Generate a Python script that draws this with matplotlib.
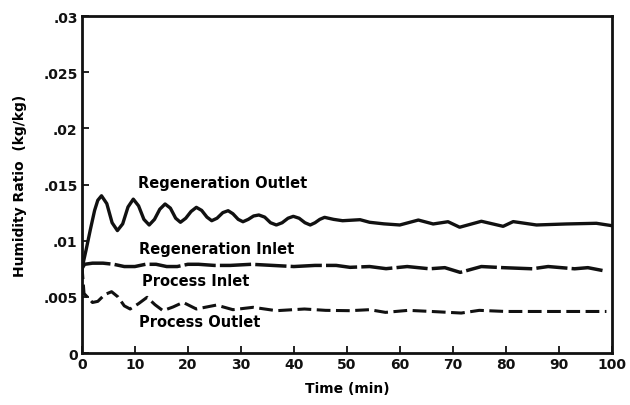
import matplotlib
matplotlib.use('agg')
import matplotlib.pyplot as plt

# Regeneration outlet humidity ratio (kg/kg) vs time (min)
reg_out_t = [0, 0.8, 1.6, 2.4, 3.0, 3.7, 4.7, 5.7, 6.7, 7.7, 8.7, 9.7, 10.7, 11.7, 12.7,
             13.7, 14.7, 15.7, 16.7, 17.7, 18.6, 19.6, 20.6, 21.6, 22.6, 23.6, 24.5, 25.5,
             26.6, 27.6, 28.5, 29.5, 30.4, 31.4, 32.4, 33.4, 34.5, 35.6, 36.7, 37.8, 38.9,
             39.9, 41.0, 42.1, 43.1, 44.0, 44.9, 45.8, 47.5, 49.2, 52.5, 54.3, 57, 60, 63.5,
             66.3, 69.1, 71.3, 75.4, 79.5, 81.4, 85.8, 91.4, 97.1, 100]
reg_out_w = [0.0075, 0.0092, 0.0110, 0.0127, 0.0136, 0.0140, 0.0133, 0.0116, 0.0109, 0.0115,
             0.0130, 0.0137, 0.0131, 0.0119, 0.0114, 0.0119, 0.0128, 0.01327, 0.0129, 0.0120,
             0.01164, 0.0120, 0.0126, 0.01297, 0.0127, 0.0121, 0.01178, 0.0120, 0.0125,
             0.01267, 0.0124, 0.0119, 0.01169, 0.0119, 0.0122, 0.01229, 0.0121, 0.0116,
             0.0114, 0.0116, 0.0120, 0.01217, 0.0120, 0.0116, 0.0114, 0.0116, 0.0119,
             0.01208, 0.0119, 0.01178, 0.01187, 0.01164, 0.0115, 0.0114, 0.01184, 0.01149,
             0.01169, 0.0112, 0.01173, 0.01128, 0.0117, 0.0114, 0.01149, 0.01155, 0.01134]

# Regeneration / process inlet (same ambient air)
inlet_t = [0, 0.5, 2, 4, 6, 8, 10, 12, 14, 16, 18, 20, 22, 25, 28, 32, 36, 40, 44, 48,
           50.6, 54.3, 57.4, 61.4, 65.6, 68.5, 71.4, 75.4, 79.5, 85, 88, 93, 95.5, 99]
inlet_w = [0.0075, 0.0079, 0.0080, 0.0080, 0.0079, 0.0077, 0.0077, 0.0079, 0.0079, 0.0077,
           0.0077, 0.0079, 0.0079, 0.0078, 0.0078, 0.0079, 0.0078, 0.0077, 0.0078, 0.0078,
           0.00763, 0.0077, 0.00751, 0.0077, 0.0075, 0.0076, 0.00718, 0.0077, 0.0076,
           0.0075, 0.0077, 0.0075, 0.0076, 0.00728]

# Process outlet
proc_out_t = [0, 0.4, 1, 2, 3, 4.3, 5.6, 6.8, 8, 9.1, 10.7, 12.3, 13.8, 15.3, 17.2, 19.1,
              21.6, 25.4, 28.5, 32.3, 36.7, 42, 46, 50.6, 54.3, 57.3, 61.6, 66, 71.6, 75,
              80, 86, 92, 99]
proc_out_w = [0.0078, 0.0053, 0.0050, 0.0045, 0.0046, 0.0052, 0.00546, 0.0050, 0.0042,
              0.00392, 0.0044, 0.00496, 0.0043, 0.00377, 0.0041, 0.00451, 0.00392, 0.00427,
              0.00386, 0.00407, 0.00377, 0.00392, 0.0038, 0.00377, 0.00386, 0.00362, 0.0038,
              0.0037, 0.00356, 0.0038, 0.0037, 0.0037, 0.0037, 0.0037]

x_ticks = [0, 10, 20, 30, 40, 50, 60, 70, 80, 90, 100]
y_ticks = [0, 0.005, 0.01, 0.015, 0.02, 0.025, 0.03]
y_tick_labels = ['0', '.005', '.01', '.015', '.02', '.025', '.03']

plt.rcParams['font.family'] = ['DejaVu Sans']
plt.rcParams['font.weight'] = 'bold'

fig = plt.figure(figsize=(6.3, 4.06), dpi=100)
ax = fig.add_axes([0.130, 0.128, 0.841, 0.830])

ink = '#111111'
ax.plot(reg_out_t, reg_out_w, color=ink, lw=2.4, solid_capstyle='round', solid_joinstyle='round')
ax.plot(inlet_t, inlet_w, color=ink, lw=2.5, dashes=(9, 1.2))
ax.plot(proc_out_t, proc_out_w, color=ink, lw=2.2, dashes=(4.5, 1.8))

ax.text(10.6, 0.0152, 'Regeneration Outlet', fontsize=10.5, fontweight='bold', va='center')
ax.text(10.8, 0.0093, 'Regeneration Inlet', fontsize=10.5, fontweight='bold', va='center')
ax.text(11.3, 0.0065, 'Process Inlet', fontsize=10.5, fontweight='bold', va='center')
ax.text(10.8, 0.0028, 'Process Outlet', fontsize=10.5, fontweight='bold', va='center')

ax.set_xlim(0, 100)
ax.set_ylim(0, 0.03)
ax.set_xticks(x_ticks)
ax.set_yticks(y_ticks)
ax.set_yticklabels(y_tick_labels)
ax.tick_params(direction='in', length=5, width=1.3, colors=ink, labelsize=10, pad=3)
for lab in ax.get_xticklabels() + ax.get_yticklabels():
    lab.set_fontweight('bold')
for s in ax.spines.values():
    s.set_linewidth(2)
    s.set_color(ink)

ax.set_xlabel('Time (min)', fontsize=10, fontweight='bold', labelpad=7)
ax.set_ylabel('Humidity Ratio  (kg/kg)', fontsize=10, fontweight='bold', labelpad=12)

fig.savefig('out.png', dpi=100)
